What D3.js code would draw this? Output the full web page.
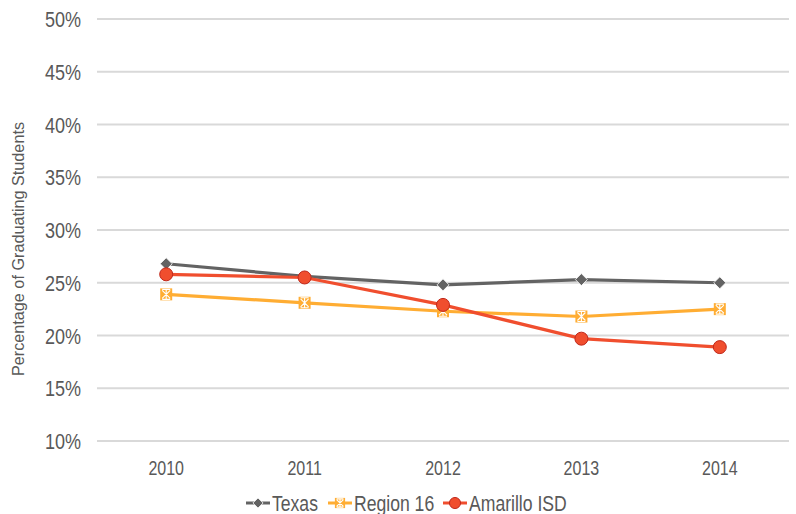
<!DOCTYPE html>
<html><head><meta charset="utf-8">
<script src="https://cdn.jsdelivr.net/npm/d3@7"></script>
<style>
body{margin:0;background:#fff;}
text{font-family:"Liberation Sans",Arial,sans-serif;fill:#595959;}
</style></head>
<body><svg id="c" width="796" height="514"></svg>
<script>
const years = ["2010","2011","2012","2013","2014"];
const texas = [26.8, 25.6, 24.8, 25.3, 25.0];
const region16 = [23.9, 23.1, 22.3, 21.8, 22.5];
const amarillo = [25.8, 25.5, 22.9, 19.7, 18.9];
const yTicks = [10,15,20,25,30,35,40,45,50];
const seriesNames = ["Texas","Region 16","Amarillo ISD"];
const colors = ["#636363","#FFAD33","#F04E2E"];

const svg = d3.select("#c");
const x = d3.scaleBand().domain(years).range([97,789]);
const y = d3.scaleLinear().domain([10,50]).range([441,19]);

function ctext(g, px, py, str, size, anchor, sx){
  return g.append("text").attr("transform",`translate(${px},${py}) scale(${sx},1)`)
    .attr("text-anchor",anchor).attr("font-size",size).text(str);
}

svg.append("g").selectAll("line").data(yTicks).join("line")
  .attr("x1",97).attr("x2",789)
  .attr("y1",d=>y(d)).attr("y2",d=>y(d))
  .attr("stroke","#d9d9d9").attr("stroke-width",2);

const gy = svg.append("g");
yTicks.forEach(d=>ctext(gy,81,y(d)+8,d+"%",22,"end",0.82));

const gx = svg.append("g");
years.forEach(d=>ctext(gx,x(d)+x.bandwidth()/2,475,d,20,"middle",0.8));

svg.append("text").attr("transform","translate(24,249) rotate(-90)")
  .attr("text-anchor","middle").attr("font-size",17)
  .attr("textLength",254).attr("lengthAdjust","spacingAndGlyphs")
  .text("Percentage of Graduating Students");

const cx = d=>x(d)+x.bandwidth()/2;
const data = [texas, region16, amarillo];
const line = d3.line().x((d,i)=>cx(years[i])).y(d=>y(d));

function marker(g, type, px, py, s){
  if(type===0){
    g.append("path").attr("d",`M${px},${py-6*s}L${px+6*s},${py}L${px},${py+6*s}L${px-6*s},${py}Z`)
      .attr("fill","#636363").attr("stroke","#fff").attr("stroke-width",0.8);
  } else if(type===1){
    const h=6*s, k=4*s;
    g.append("rect").attr("x",px-h).attr("y",py-h).attr("width",2*h).attr("height",2*h)
      .attr("fill","#FFAD33");
    g.append("path").attr("d",`M${px-k},${py-k}L${px+k},${py+k}M${px+k},${py-k}L${px-k},${py+k}M${px},${py-h+1}L${px},${py+h-1}M${px-k},${py-h+1}L${px+k},${py-h+1}M${px-k},${py+h-1}L${px+k},${py+h-1}`)
      .attr("stroke","#fff").attr("stroke-width",1.1);
  } else {
    g.append("circle").attr("cx",px).attr("cy",py).attr("r",6.5*s)
      .attr("fill","#F04E2E").attr("stroke","#C0281B").attr("stroke-width",1);
  }
}

data.forEach((vals,k)=>{
  svg.append("path").datum(vals).attr("d",line).attr("fill","none")
    .attr("stroke",colors[k]).attr("stroke-width",3.2);
});
data.forEach((vals,k)=>{
  const g = svg.append("g");
  vals.forEach((v,i)=>marker(g,k,cx(years[i]),y(v),1));
});

// legend
const legX = [246, 328, 443];
const legend = svg.append("g");
seriesNames.forEach((n,k)=>{
  const lx = legX[k], ly = 503;
  legend.append("line").attr("x1",lx).attr("x2",lx+24).attr("y1",ly).attr("y2",ly)
    .attr("stroke",colors[k]).attr("stroke-width",3);
  marker(legend,k,lx+12,ly,0.85);
  ctext(legend,lx+26,ly+8,n,22,"start",0.8);
});
</script></body></html>
